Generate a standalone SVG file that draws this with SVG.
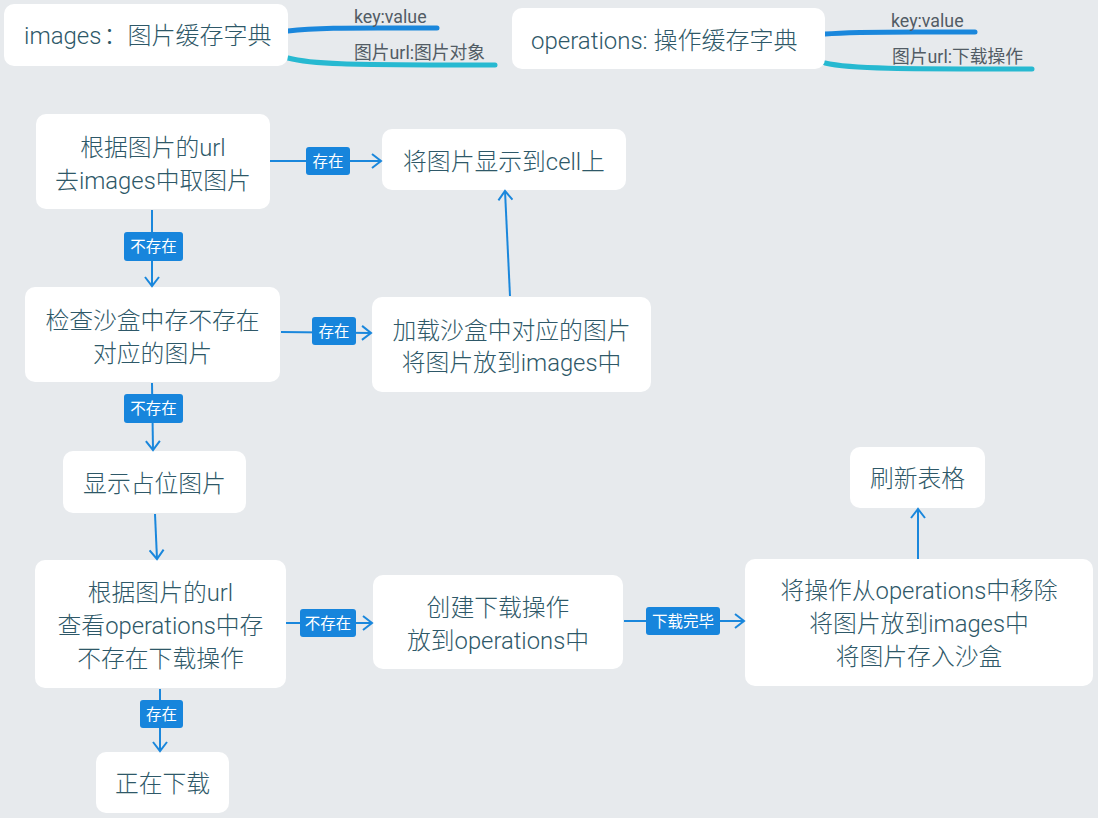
<svg xmlns="http://www.w3.org/2000/svg" width="1098" height="818" viewBox="0 0 1098 818">
<defs>
<style>
.box{fill:#ffffff;}
.t{font-family:Roboto,"Noto Sans CJK SC",sans-serif;font-size:23.8px;font-weight:300;fill:#2e5868;text-anchor:middle;}
.h{font-family:Roboto,"Noto Sans CJK SC",sans-serif;font-size:24px;font-weight:300;fill:#2e5868;}
.b{font-family:Roboto,"Noto Sans CJK SC",sans-serif;font-size:17.8px;fill:#525c65;}
.e{stroke:#1a87dc;stroke-width:2;fill:none;marker-end:url(#arr);}
.lb{fill:#1785dc;}
.lt{font-family:Roboto,"Noto Sans CJK SC",sans-serif;font-size:15.5px;fill:#ffffff;text-anchor:middle;}
.br1{stroke:#1a87dc;stroke-width:5;fill:none;stroke-linecap:round;}
.br2{stroke:#27b9d1;stroke-width:5;fill:none;stroke-linecap:round;}
</style>
<marker id="arr" viewBox="-11 -8 13 16" refX="0" refY="0" markerWidth="13" markerHeight="16" markerUnits="userSpaceOnUse" orient="auto">
<path d="M-9,-7 L0,0 L-9,7" stroke="#1a87dc" stroke-width="2" fill="none"/>
</marker>
</defs>
<rect width="1098" height="818" fill="#e7eaed"/>

<g id="branches">
<path class="br1" d="M288,31 C320,27 360,28 437,28"/>
<path class="br2" d="M288,58 C310,64 340,65 495,65"/>
<path class="br1" d="M825,34 C860,31 900,32 975,32"/>
<path class="br2" d="M825,63 C850,69 900,69 1032,69"/>
<text class="b" x="354" y="23">key:value</text>
<text class="b" x="354" y="59">图片url:图片对象</text>
<text class="b" x="891" y="27">key:value</text>
<text class="b" x="892" y="63">图片url:下载操作</text>
</g>

<g id="images-dict">
<rect class="box" x="4" y="4" width="284" height="62" rx="10"/>
<text class="h" x="24" y="44">images<tspan dx="2">：</tspan>图片缓存字典</text>
</g>
<g id="operations-dict">
<rect class="box" x="512" y="8" width="313" height="61" rx="10"/>
<text class="h" x="531" y="48.5">operations: 操作缓存字典</text>
</g>

<g id="n-get">
<rect class="box" x="36" y="114" width="234" height="95" rx="10"/>
<text class="t" x="153" y="155.5">根据图片的url</text>
<text class="t" x="153" y="188.5">去images中取图片</text>
</g>
<g id="n-show">
<rect class="box" x="382" y="129" width="244" height="61" rx="10"/>
<text class="t" x="504" y="169.5">将图片显示到cell上</text>
</g>
<g id="n-check">
<rect class="box" x="25" y="287" width="255" height="95" rx="10"/>
<text class="t" x="152.5" y="328.5">检查沙盒中存不存在</text>
<text class="t" x="152.5" y="361.5">对应的图片</text>
</g>
<g id="n-load">
<rect class="box" x="372" y="297" width="279" height="95" rx="10"/>
<text class="t" x="511.5" y="338.5">加载沙盒中对应的图片</text>
<text class="t" x="511.5" y="370.5">将图片放到images中</text>
</g>
<g id="n-placeholder">
<rect class="box" x="63" y="451" width="183" height="62" rx="10"/>
<text class="t" x="154.5" y="491.5">显示占位图片</text>
</g>
<g id="n-checkop">
<rect class="box" x="35" y="560" width="251" height="128" rx="10"/>
<text class="t" x="160.5" y="600.5">根据图片的url</text>
<text class="t" x="160.5" y="633.5">查看operations中存</text>
<text class="t" x="160.5" y="666.5">不存在下载操作</text>
</g>
<g id="n-create">
<rect class="box" x="373" y="575" width="250" height="94" rx="10"/>
<text class="t" x="498" y="615.5">创建下载操作</text>
<text class="t" x="498" y="648.5">放到operations中</text>
</g>
<g id="n-done">
<rect class="box" x="745" y="559" width="348" height="127" rx="10"/>
<text class="t" x="919" y="598.5">将操作从operations中移除</text>
<text class="t" x="919" y="631.5">将图片放到images中</text>
<text class="t" x="919" y="664.5">将图片存入沙盒</text>
</g>
<g id="n-refresh">
<rect class="box" x="850" y="447" width="135" height="61" rx="10"/>
<text class="t" x="917.5" y="486.5">刷新表格</text>
</g>
<g id="n-downloading">
<rect class="box" x="96" y="752" width="133" height="61" rx="10"/>
<text class="t" x="162.5" y="791.5">正在下载</text>
</g>

<g id="connectors">
<line class="e" x1="270" y1="161" x2="381" y2="161"/>
<rect class="lb" x="306" y="147" width="44" height="28" rx="3"/>
<text class="lt" x="328" y="166.5">存在</text>

<line class="e" x1="152" y1="210" x2="152" y2="286"/>
<rect class="lb" x="124" y="232" width="59" height="29" rx="3"/>
<text class="lt" x="153.5" y="252">不存在</text>

<line class="e" x1="281" y1="332" x2="371" y2="333"/>
<rect class="lb" x="312" y="317" width="44" height="28" rx="3"/>
<text class="lt" x="334" y="336.5">存在</text>

<line class="e" x1="510" y1="296" x2="505" y2="191"/>

<line class="e" x1="152" y1="383" x2="153" y2="450"/>
<rect class="lb" x="124" y="394" width="59" height="29" rx="3"/>
<text class="lt" x="153.5" y="414">不存在</text>

<line class="e" x1="155" y1="514" x2="157" y2="559"/>

<line class="e" x1="286" y1="623" x2="372" y2="623"/>
<rect class="lb" x="300" y="609" width="56" height="28" rx="3"/>
<text class="lt" x="328" y="628.5">不存在</text>

<line class="e" x1="624" y1="621" x2="744" y2="621"/>
<rect class="lb" x="646" y="607" width="74" height="28" rx="3"/>
<text class="lt" x="683" y="626.5">下载完毕</text>

<line class="e" x1="918" y1="559" x2="918" y2="509"/>

<line class="e" x1="160" y1="689" x2="160" y2="751"/>
<rect class="lb" x="140" y="700" width="43" height="28" rx="3"/>
<text class="lt" x="161.5" y="719.5">存在</text>
</g>
</svg>
